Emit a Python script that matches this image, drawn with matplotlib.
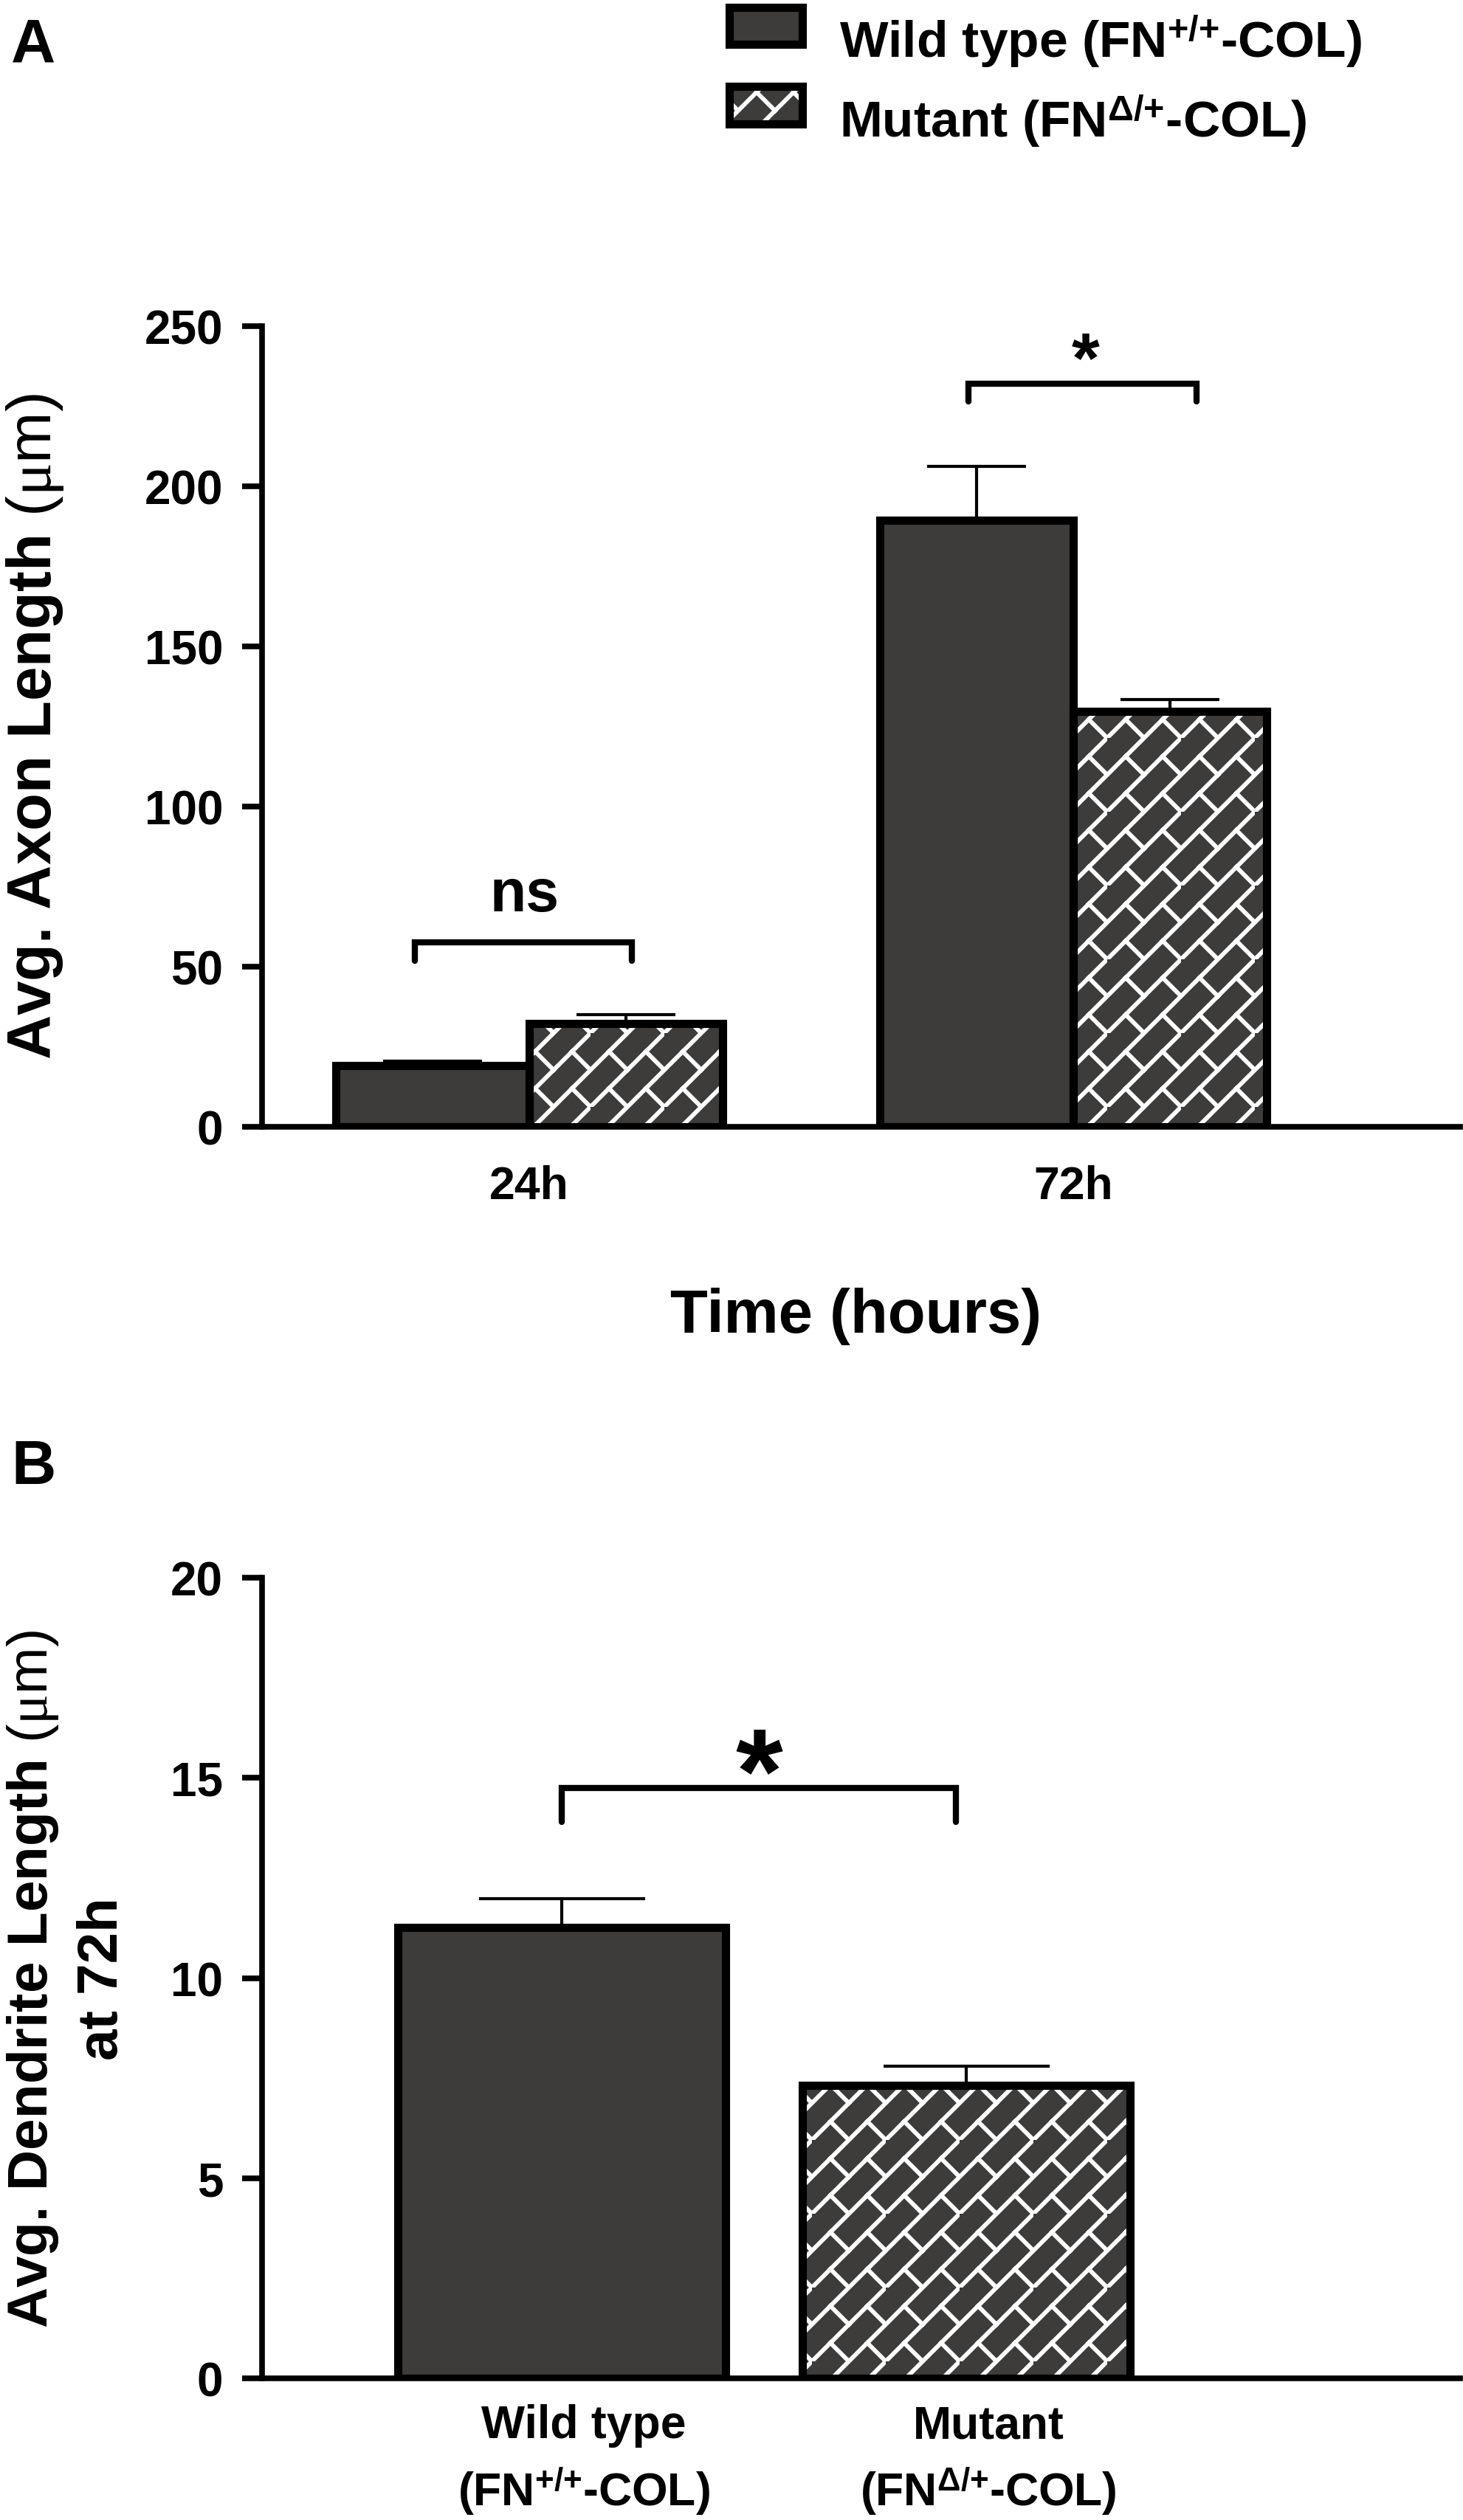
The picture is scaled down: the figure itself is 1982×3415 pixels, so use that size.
import numpy as np
import matplotlib
matplotlib.use('Agg')
import matplotlib.pyplot as plt
import matplotlib.hatch as mhatch
from matplotlib.path import Path
from matplotlib.patches import Patch, Rectangle
from matplotlib.legend_handler import HandlerPatch, HandlerTuple
from matplotlib.transforms import ScaledTranslation

# ---- data ----
times = ['24h', '72h']
axon_wt = [19.1, 189.4]
axon_wt_err = [1.4, 16.8]
axon_mut = [32.3, 129.8]
axon_mut_err = [2.7, 3.6]

dend_labels = ['Wild type\n(FN$^{\\mathbf{+/{+}}}$-COL)',
               'Mutant\n(FN$^{\\mathbf{\\Delta/{+}}}$-COL)']
dend_vals = [11.27, 7.32]
dend_err = [0.72, 0.48]

legend_labels = ['Wild type (FN$^{\\mathbf{+/{+}}}$-COL)',
                 'Mutant (FN$^{\\mathbf{\\Delta/{+}}}$-COL)']

# significance marks: (x1, x2, y, tip, text, text_x, text_y, size)
axon_sig = [(-0.21, 0.189, 57.7, 51.8, 'ns', -0.008, 67.5, 58),
            (0.807, 1.227, 232.0, 226.5, '*', 1.022, 232.7, 70)]
dend_sig = [(0.0, 0.975, 14.74, 13.9, '*', 0.487, 14.15, 118)]

# ---- style ----
plt.rcParams['font.family'] = ['Liberation Sans', 'DejaVu Sans']
plt.rcParams['font.weight'] = 'bold'
plt.rcParams['mathtext.fontset'] = 'custom'
plt.rcParams['mathtext.rm'] = 'Liberation Sans:regular'
plt.rcParams['mathtext.bf'] = 'Liberation Sans:bold'
plt.rcParams['mathtext.it'] = 'Liberation Serif:regular'
plt.rcParams['hatch.linewidth'] = 4.2

DARK = '#3d3c3b'
EDGE_LW = 8.0
ERR_LW = 3.0
AX_LW = 5.5


# brick wall hatch, registered on '*' (replaces the star hatch)
class BrickHatch(mhatch.HatchPatternBase):
    segs = [((-0.1, -0.1), (1.1, 1.1)),
            ((-0.1, 0.4), (0.6, 1.1)),
            ((0.4, -0.1), (1.1, 0.6)),
            ((0.5, 0.5), (0.25, 0.75)),
            ((1.0, 0.0), (0.75, 0.25)),
            ((0.25, 0.25), (0.5, 0.0)),
            ((0.75, 0.75), (1.0, 0.5))]

    def __init__(self, hatch, density):
        self.n = hatch.count('*')
        self.num_vertices = len(self.segs) * 2 * self.n ** 2

    def set_vertices_and_codes(self, vertices, codes):
        n = self.n
        k = 0
        for i in range(n):
            for j in range(n):
                for a, b in self.segs:
                    vertices[k] = ((a[0] + i) / n, (a[1] + j) / n)
                    vertices[k + 1] = ((b[0] + i) / n, (b[1] + j) / n)
                    codes[k] = Path.MOVETO
                    codes[k + 1] = Path.LINETO
                    k += 2


mhatch._hatch_types = [t for t in mhatch._hatch_types if t is not mhatch.Stars] + [BrickHatch]

W, H = 1983, 3416
fig = plt.figure(figsize=(W / 100, H / 100), dpi=100)


def fx(px):
    return px / W


def fy(py):
    return 1 - py / H


def draw_bars(ax, xpos, vals, errs, width, hatched, cap):
    if hatched:
        ax.bar(xpos, vals, width, color=DARK, edgecolor='white', linewidth=0,
               hatch='*', zorder=2)
    else:
        ax.bar(xpos, vals, width, color=DARK, linewidth=0, zorder=2)
    ax.bar(xpos, vals, width, fill=False, edgecolor='black', linewidth=EDGE_LW, zorder=3)
    ax.errorbar(xpos, vals, yerr=[np.zeros(len(vals)), errs], fmt='none', ecolor='black',
                elinewidth=ERR_LW, capsize=cap, capthick=ERR_LW, zorder=1)


def draw_sig(ax, marks):
    for x1, x2, y, tip, txt, tx, ty, size in marks:
        ax.plot([x1, x1, x2, x2], [tip, y, y, tip], color='black', lw=6,
                solid_capstyle='round', solid_joinstyle='miter', zorder=4)
        ax.text(tx, ty, txt, ha='center', va='baseline', fontsize=size)


def style_axes(ax):
    ax.spines[['top', 'right']].set_visible(False)
    ax.spines[['left', 'bottom']].set_linewidth(AX_LW)
    ax.tick_params(axis='y', length=19.4, width=AX_LW, pad=18.7, labelsize=46)


# ---- panel A ----
axA = fig.add_axes([fx(355), fy(1528), fx(1978) - fx(355), fy(443) - fy(1528)])
x = np.arange(len(times))
bw = 0.355
draw_bars(axA, x - bw / 2, axon_wt, axon_wt_err, bw, False, 48)
draw_bars(axA, x + bw / 2, axon_mut, axon_mut_err, bw, True, 48)
draw_sig(axA, axon_sig)
style_axes(axA)
axA.set_ylim(0, 250)
axA.set_yticks(np.arange(0, 251, 50))
axA.set_xlim(-0.491, 1.711)
axA.set_xticks(x, times)
axA.tick_params(axis='x', length=0, pad=36.7, labelsize=45)

# ---- panel B ----
axB = fig.add_axes([fx(355), fy(3224), fx(1978) - fx(355), fy(2139) - fy(3224)])
bwB = 0.812
draw_bars(axB, [0], dend_vals[:1], dend_err[:1], bwB, False, 81)
draw_bars(axB, [1], dend_vals[1:], dend_err[1:], bwB, True, 81)
draw_sig(axB, dend_sig)
style_axes(axB)
axB.set_ylim(0, 20)
axB.set_yticks(np.arange(0, 21, 5))
axB.set_xlim(-0.741, 2.221)
axB.set_xticks([0, 1], dend_labels)
axB.tick_params(axis='x', length=0, pad=24.5, labelsize=45)
for lbl in axB.get_xticklabels():
    lbl.set_linespacing(1.45)
    lbl.set_transform(lbl.get_transform() + ScaledTranslation(0.3, 0, fig.dpi_scale_trans))

# ---- labels ----
fig.text(fx(6), fy(985), 'Avg. Axon Length $(\\mu\\mathrm{m})$', rotation=90,
         ha='left', va='center', fontsize=60)
fig.text(fx(7), fy(2682), 'Avg. Dendrite Length $(\\mu\\mathrm{m})$\nat 72h', rotation=90,
         ha='left', va='center', multialignment='center', linespacing=1.4, fontsize=55)
fig.text(fx(1160), fy(1745), 'Time (hours)', ha='center', va='top', fontsize=60)
fig.text(fx(15), fy(24), 'A', ha='left', va='top', fontsize=60)
fig.text(fx(15), fy(1950), 'B', ha='left', va='top', fontsize=60)


# ---- legend ----
def raised_box(legend, orig_handle, xdescent, ydescent, width, height, fontsize):
    return Rectangle((-xdescent, -ydescent + 0.258 * fontsize), width, height)


handles = [Patch(facecolor=DARK, edgecolor='black', linewidth=EDGE_LW),
           (Patch(facecolor=DARK, edgecolor='white', linewidth=0, hatch='*'),
            Patch(fill=False, edgecolor='black', linewidth=EDGE_LW))]
fig.legend(handles, legend_labels,
           handler_map={Patch: HandlerPatch(patch_func=raised_box),
                        tuple: HandlerTuple(ndivide=1, pad=0)},
           loc='upper left', bbox_to_anchor=(fx(988), fy(19)), frameon=False,
           borderpad=0, borderaxespad=0, handlelength=1.42, handleheight=0.74,
           handletextpad=0.72, labelspacing=0.46, prop={'size': 50, 'weight': 'bold'})

fig.savefig('out.png', dpi=100)
